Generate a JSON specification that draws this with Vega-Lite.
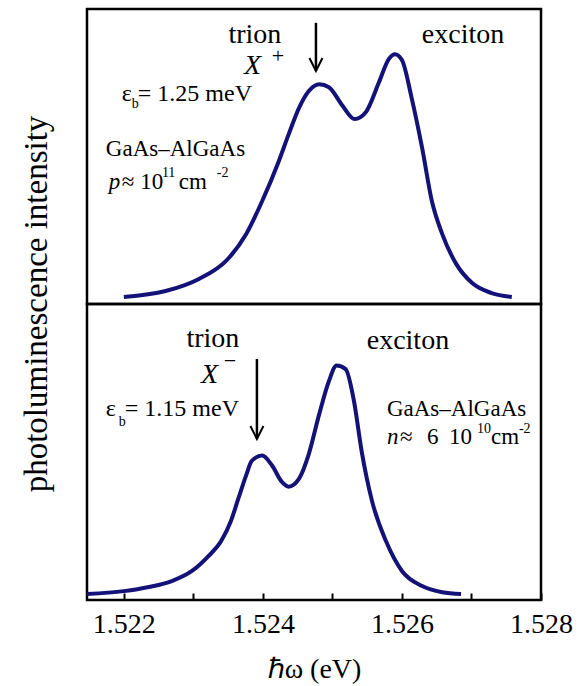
{
  "$schema": "https://vega.github.io/schema/vega-lite/v6.json",
  "background": "white",
  "padding": {"left": 19, "top": 7, "right": 5, "bottom": 5},
  "spacing": 0,
  "bounds": "flush",
  "config": {
    "view": {"stroke": "black", "strokeWidth": 2.5},
    "axis": {"domain": false, "grid": false, "tickColor": "black", "tickWidth": 2, "labelColor": "black", "titleColor": "black"}
  },
  "vconcat": [
    {
      "width": 454,
      "height": 295,
      "layer": [
        {
          "data": {"values": [
            {"energy": 1.52200, "intensity": 0.024}, {"energy": 1.52260, "intensity": 0.044}, {"energy": 1.52308, "intensity": 0.085}, {"energy": 1.52347, "intensity": 0.146}, {"energy": 1.52376, "intensity": 0.237}, {"energy": 1.52399, "intensity": 0.349}, {"energy": 1.52423, "intensity": 0.485}, {"energy": 1.52437, "intensity": 0.575}, {"energy": 1.52452, "intensity": 0.665}, {"energy": 1.52466, "intensity": 0.722}, {"energy": 1.52481, "intensity": 0.745}, {"energy": 1.52495, "intensity": 0.735}, {"energy": 1.52514, "intensity": 0.674}, {"energy": 1.52532, "intensity": 0.627}, {"energy": 1.52548, "intensity": 0.650}, {"energy": 1.52567, "intensity": 0.752}, {"energy": 1.52581, "intensity": 0.830}, {"energy": 1.52590, "intensity": 0.847}, {"energy": 1.52600, "intensity": 0.827}, {"energy": 1.52614, "intensity": 0.698}, {"energy": 1.52629, "intensity": 0.529}, {"energy": 1.52643, "intensity": 0.349}, {"energy": 1.52658, "intensity": 0.237}, {"energy": 1.52678, "intensity": 0.136}, {"energy": 1.52701, "intensity": 0.071}, {"energy": 1.52729, "intensity": 0.037}, {"energy": 1.52758, "intensity": 0.024}
          ]},
          "mark": {"type": "line", "color": "#121279", "strokeWidth": 4, "interpolate": "monotone"},
          "encoding": {
            "x": {"field": "energy", "type": "quantitative", "scale": {"domain": [1.52147, 1.528], "nice": false, "zero": false}, "axis": {"orient": "bottom", "values": [1.522, 1.523, 1.524, 1.525, 1.526, 1.527], "labels": false, "title": null, "tickSize": -5}},
            "y": {"field": "intensity", "type": "quantitative", "scale": {"domain": [0, 1], "nice": false}, "axis": null}
          }
        },
        {
          "data": {"values": [{"label": "photoluminescence intensity", "energy": 1.520894, "level": 0}]},
          "mark": {"type": "text", "font": "Liberation Serif", "fontSize": 33, "angle": 270, "align": "center", "baseline": "alphabetic", "color": "black"},
          "encoding": {"x": {"field": "energy", "type": "quantitative", "axis": null}, "y": {"field": "level", "type": "quantitative", "axis": null}, "text": {"field": "label"}}
        },
        {
          "data": {"values": [{"energy": 1.524763, "top": 0.953, "tip": 0.790}]},
          "layer": [
            {"mark": {"type": "rule", "color": "black", "strokeWidth": 2.5}, "encoding": {"x": {"field": "energy", "type": "quantitative", "axis": null}, "y": {"field": "top", "type": "quantitative", "axis": null}, "y2": {"field": "tip"}}},
            {"mark": {"type": "point", "shape": "M-1,-2L0,0L1,-2", "size": 169, "filled": false, "stroke": "black", "strokeWidth": 2, "opacity": 1}, "encoding": {"x": {"field": "energy", "type": "quantitative", "axis": null}, "y": {"field": "tip", "type": "quantitative", "axis": null}}}
          ]
        },
        {
          "data": {"values": [{"label": "trion", "energy": 1.523885, "level": 0.885}, {"label": "exciton", "energy": 1.526878, "level": 0.885}]},
          "mark": {"type": "text", "font": "Liberation Serif", "fontSize": 28, "align": "center", "baseline": "alphabetic", "color": "black"},
          "encoding": {"x": {"field": "energy", "type": "quantitative", "axis": null}, "y": {"field": "level", "type": "quantitative", "axis": null}, "text": {"field": "label"}}
        },
        {
          "data": {"values": [{"label": "X", "energy": 1.523727, "level": 0.780}]},
          "mark": {"type": "text", "font": "Liberation Serif", "fontSize": 28, "fontStyle": "italic", "align": "left", "baseline": "alphabetic", "color": "black"},
          "encoding": {"x": {"field": "energy", "type": "quantitative", "axis": null}, "y": {"field": "level", "type": "quantitative", "axis": null}, "text": {"field": "label"}}
        },
        {
          "data": {"values": [{"label": "+", "energy": 1.524216, "level": 0.840}]},
          "mark": {"type": "text", "font": "Liberation Serif", "fontSize": 22, "align": "center", "baseline": "middle", "color": "black"},
          "encoding": {"x": {"field": "energy", "type": "quantitative", "axis": null}, "y": {"field": "level", "type": "quantitative", "axis": null}, "text": {"field": "label"}}
        },
        {
          "data": {"values": [
            {"label": "ε", "energy": 1.521971, "level": 0.688},
            {"label": "= 1.25 meV", "energy": 1.522201, "level": 0.688}
          ]},
          "mark": {"type": "text", "font": "Liberation Serif", "fontSize": 24, "align": "left", "baseline": "alphabetic", "color": "black"},
          "encoding": {"x": {"field": "energy", "type": "quantitative", "axis": null}, "y": {"field": "level", "type": "quantitative", "axis": null}, "text": {"field": "label"}}
        },
        {
          "data": {"values": [
            {"label": "GaAs–AlGaAs", "energy": 1.521741, "level": 0.502},
            {"label": "≈ 10", "energy": 1.521971, "level": 0.390},
            {"label": "cm", "energy": 1.522791, "level": 0.390}
          ]},
          "mark": {"type": "text", "font": "Liberation Serif", "fontSize": 23, "align": "left", "baseline": "alphabetic", "color": "black"},
          "encoding": {"x": {"field": "energy", "type": "quantitative", "axis": null}, "y": {"field": "level", "type": "quantitative", "axis": null}, "text": {"field": "label"}}
        },
        {
          "data": {"values": [{"label": "p", "energy": 1.521784, "level": 0.390}]},
          "mark": {"type": "text", "font": "Liberation Serif", "fontSize": 23, "fontStyle": "italic", "align": "left", "baseline": "alphabetic", "color": "black"},
          "encoding": {"x": {"field": "energy", "type": "quantitative", "axis": null}, "y": {"field": "level", "type": "quantitative", "axis": null}, "text": {"field": "label"}}
        },
        {
          "data": {"values": [
            {"label": "b", "energy": 1.522115, "level": 0.664},
            {"label": "11", "energy": 1.522547, "level": 0.431},
            {"label": "-2", "energy": 1.523338, "level": 0.431}
          ]},
          "mark": {"type": "text", "font": "Liberation Serif", "fontSize": 14, "align": "left", "baseline": "alphabetic", "color": "black"},
          "encoding": {"x": {"field": "energy", "type": "quantitative", "axis": null}, "y": {"field": "level", "type": "quantitative", "axis": null}, "text": {"field": "label"}}
        }
      ]
    },
    {
      "width": 454,
      "height": 296,
      "resolve": {"axis": {"x": "independent"}},
      "layer": [
        {
          "data": {"values": [
            {"energy": 1.52147, "intensity": 0.020}, {"energy": 1.52200, "intensity": 0.030}, {"energy": 1.52236, "intensity": 0.044}, {"energy": 1.52269, "intensity": 0.064}, {"energy": 1.52298, "intensity": 0.098}, {"energy": 1.52322, "intensity": 0.149}, {"energy": 1.52340, "intensity": 0.199}, {"energy": 1.52354, "intensity": 0.267}, {"energy": 1.52365, "intensity": 0.345}, {"energy": 1.52376, "intensity": 0.422}, {"energy": 1.52384, "intensity": 0.470}, {"energy": 1.52399, "intensity": 0.488}, {"energy": 1.52413, "intensity": 0.455}, {"energy": 1.52427, "intensity": 0.400}, {"energy": 1.52437, "intensity": 0.383}, {"energy": 1.52452, "intensity": 0.410}, {"energy": 1.52466, "intensity": 0.493}, {"energy": 1.52481, "intensity": 0.628}, {"energy": 1.52495, "intensity": 0.740}, {"energy": 1.52506, "intensity": 0.792}, {"energy": 1.52519, "intensity": 0.780}, {"energy": 1.52531, "intensity": 0.672}, {"energy": 1.52542, "intensity": 0.503}, {"energy": 1.52557, "intensity": 0.334}, {"energy": 1.52577, "intensity": 0.199}, {"energy": 1.52600, "intensity": 0.098}, {"energy": 1.52629, "intensity": 0.047}, {"energy": 1.52658, "intensity": 0.026}, {"energy": 1.52685, "intensity": 0.020}
          ]},
          "mark": {"type": "line", "color": "#121279", "strokeWidth": 4, "interpolate": "monotone"},
          "encoding": {
            "x": {"field": "energy", "type": "quantitative", "scale": {"domain": [1.52147, 1.528], "nice": false, "zero": false}, "axis": {"orient": "bottom", "values": [1.522, 1.523, 1.524, 1.525, 1.526, 1.527, 1.528], "labelExpr": "round(datum.value*1000) % 2 == 0 ? format(datum.value, '.3f') : ''", "labelFlush": false, "labelOverlap": false, "labelFont": "Liberation Serif", "labelFontSize": 28, "labelPadding": 17, "tickSize": -7, "title": "ℏω (eV)", "titleFont": "Liberation Serif", "titleFontSize": 28, "titleFontWeight": "normal", "titlePadding": 17}},
            "y": {"field": "intensity", "type": "quantitative", "scale": {"domain": [0, 1], "nice": false}, "axis": null}
          }
        },
        {
          "data": {"values": [{"energy": 1.523914, "top": 0.814, "tip": 0.544}]},
          "layer": [
            {"mark": {"type": "rule", "color": "black", "strokeWidth": 2.5}, "encoding": {"x": {"field": "energy", "type": "quantitative", "axis": {"orient": "top", "values": [1.522, 1.523, 1.524, 1.525, 1.526, 1.527], "labels": false, "title": null, "tickSize": -5}}, "y": {"field": "top", "type": "quantitative", "axis": null}, "y2": {"field": "tip"}}},
            {"mark": {"type": "point", "shape": "M-1,-2L0,0L1,-2", "size": 169, "filled": false, "stroke": "black", "strokeWidth": 2, "opacity": 1}, "encoding": {"x": {"field": "energy", "type": "quantitative", "axis": null}, "y": {"field": "tip", "type": "quantitative", "axis": null}}}
          ]
        },
        {
          "data": {"values": [{"label": "trion", "energy": 1.523281, "level": 0.855}, {"label": "exciton", "energy": 1.526086, "level": 0.848}]},
          "mark": {"type": "text", "font": "Liberation Serif", "fontSize": 28, "align": "center", "baseline": "alphabetic", "color": "black"},
          "encoding": {"x": {"field": "energy", "type": "quantitative", "axis": null}, "y": {"field": "level", "type": "quantitative", "axis": null}, "text": {"field": "label"}}
        },
        {
          "data": {"values": [{"label": "X", "energy": 1.523108, "level": 0.733}]},
          "mark": {"type": "text", "font": "Liberation Serif", "fontSize": 28, "fontStyle": "italic", "align": "left", "baseline": "alphabetic", "color": "black"},
          "encoding": {"x": {"field": "energy", "type": "quantitative", "axis": null}, "y": {"field": "level", "type": "quantitative", "axis": null}, "text": {"field": "label"}}
        },
        {
          "data": {"values": [{"label": "−", "energy": 1.523525, "level": 0.807}]},
          "mark": {"type": "text", "font": "Liberation Serif", "fontSize": 22, "align": "center", "baseline": "middle", "color": "black"},
          "encoding": {"x": {"field": "energy", "type": "quantitative", "axis": null}, "y": {"field": "level", "type": "quantitative", "axis": null}, "text": {"field": "label"}}
        },
        {
          "data": {"values": [
            {"label": "ε", "energy": 1.521741, "level": 0.622},
            {"label": "= 1.15 meV", "energy": 1.522014, "level": 0.622}
          ]},
          "mark": {"type": "text", "font": "Liberation Serif", "fontSize": 24, "align": "left", "baseline": "alphabetic", "color": "black"},
          "encoding": {"x": {"field": "energy", "type": "quantitative", "axis": null}, "y": {"field": "level", "type": "quantitative", "axis": null}, "text": {"field": "label"}}
        },
        {
          "data": {"values": [
            {"label": "GaAs–AlGaAs", "energy": 1.525784, "level": 0.622},
            {"label": "≈", "energy": 1.525971, "level": 0.527},
            {"label": "6", "energy": 1.526360, "level": 0.527},
            {"label": "10", "energy": 1.526676, "level": 0.527},
            {"label": "cm", "energy": 1.527281, "level": 0.527}
          ]},
          "mark": {"type": "text", "font": "Liberation Serif", "fontSize": 23, "align": "left", "baseline": "alphabetic", "color": "black"},
          "encoding": {"x": {"field": "energy", "type": "quantitative", "axis": null}, "y": {"field": "level", "type": "quantitative", "axis": null}, "text": {"field": "label"}}
        },
        {
          "data": {"values": [{"label": "n", "energy": 1.525784, "level": 0.527}]},
          "mark": {"type": "text", "font": "Liberation Serif", "fontSize": 23, "fontStyle": "italic", "align": "left", "baseline": "alphabetic", "color": "black"},
          "encoding": {"x": {"field": "energy", "type": "quantitative", "axis": null}, "y": {"field": "level", "type": "quantitative", "axis": null}, "text": {"field": "label"}}
        },
        {
          "data": {"values": [
            {"label": "b", "energy": 1.521928, "level": 0.588},
            {"label": "10", "energy": 1.527079, "level": 0.564},
            {"label": "-2", "energy": 1.527683, "level": 0.564}
          ]},
          "mark": {"type": "text", "font": "Liberation Serif", "fontSize": 14, "align": "left", "baseline": "alphabetic", "color": "black"},
          "encoding": {"x": {"field": "energy", "type": "quantitative", "axis": null}, "y": {"field": "level", "type": "quantitative", "axis": null}, "text": {"field": "label"}}
        }
      ]
    }
  ]
}
